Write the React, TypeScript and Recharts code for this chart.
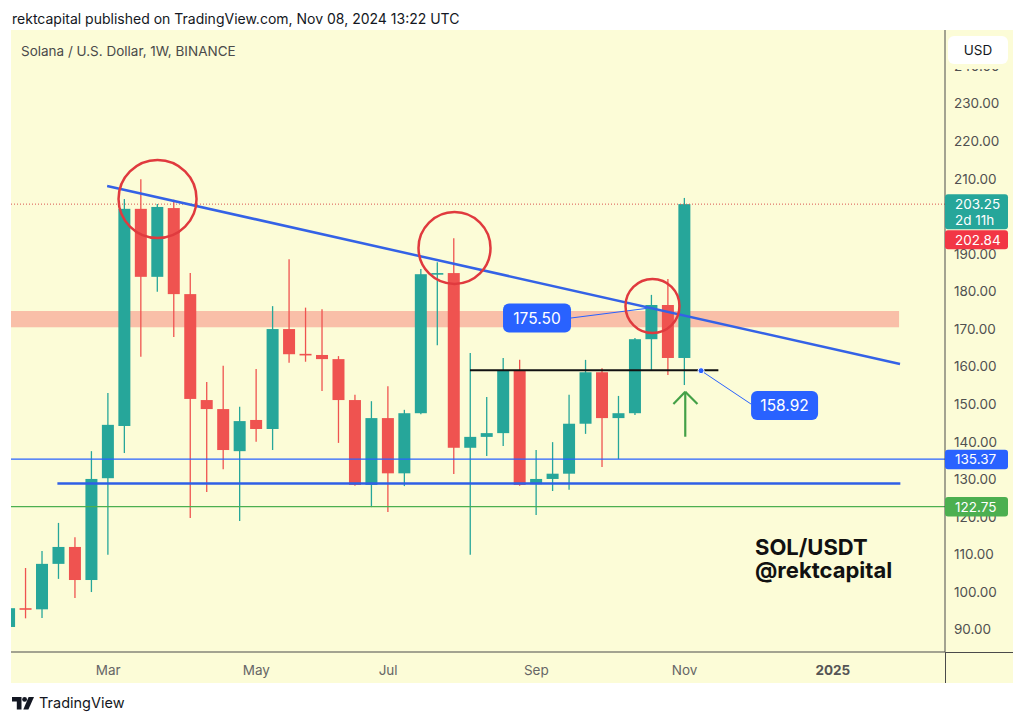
import React from 'react';
import { ComposedChart, Bar, XAxis, YAxis, ReferenceLine, ReferenceArea, ReferenceDot } from 'recharts';

// ---- data (SOL/USD weekly candles) ----
const weeks = [
  '2024-01-22', '2024-01-29', '2024-02-05', '2024-02-12', '2024-02-19', '2024-02-26', '2024-03-04', '2024-03-11',
  '2024-03-18', '2024-03-25', '2024-04-01', '2024-04-08', '2024-04-15', '2024-04-22', '2024-04-29', '2024-05-06',
  '2024-05-13', '2024-05-20', '2024-05-27', '2024-06-03', '2024-06-10', '2024-06-17', '2024-06-24', '2024-07-01',
  '2024-07-08', '2024-07-15', '2024-07-22', '2024-07-29', '2024-08-05', '2024-08-12', '2024-08-19', '2024-08-26',
  '2024-09-02', '2024-09-09', '2024-09-16', '2024-09-23', '2024-09-30', '2024-10-07', '2024-10-14', '2024-10-21',
  '2024-10-28', '2024-11-04',
];
const opens = [
  90.7, 95.7, 95.4, 107.5, 112.0, 103.2, 130.3, 144.2, 202.0, 183.9, 202.2, 179.3, 151.1, 148.7, 137.5, 145.8,
  143.4, 170.0, 163.4, 163.1, 162.0, 151.1, 128.5, 146.3, 131.6, 147.6, 184.6, 184.9, 138.4, 141.3, 142.3, 159.1,
  128.7, 130.1, 131.5, 144.8, 158.5, 146.3, 147.6, 167.3, 176.4, 162.3,
];
const highs = [
  96.2, 106.4, 110.9, 118.4, 114.6, 137.5, 153.0, 204.6, 209.9, 203.3, 204.4, 184.9, 155.9, 160.2, 149.3, 159.4,
  176.1, 188.6, 175.7, 175.3, 162.8, 152.5, 150.8, 154.8, 148.5, 186.0, 187.8, 194.2, 163.6, 151.9, 162.3, 161.8,
  137.8, 139.9, 152.5, 161.8, 159.6, 152.2, 167.6, 179.1, 183.3, 204.9,
];
const lows = [
  90.0, 93.0, 93.1, 103.5, 98.4, 100.0, 109.9, 137.0, 162.6, 179.9, 167.9, 119.7, 126.6, 132.7, 118.9, 140.0,
  137.8, 161.0, 161.3, 153.5, 139.7, 128.3, 122.6, 121.3, 128.2, 147.3, 165.7, 131.4, 109.9, 136.2, 138.9, 128.3,
  120.5, 126.9, 127.2, 142.1, 133.3, 135.4, 147.1, 159.1, 157.8, 155.1,
];
const closes = [
  95.7, 95.4, 107.5, 112.0, 103.2, 130.1, 144.5, 202.0, 183.9, 202.5, 179.3, 151.4, 148.7, 137.8, 145.5, 143.4,
  170.0, 163.3, 163.2, 162.0, 151.1, 128.5, 146.3, 131.6, 147.6, 184.6, 184.9, 138.4, 141.3, 142.3, 159.1, 128.5,
  130.1, 131.5, 144.8, 158.5, 146.3, 147.6, 167.3, 176.4, 162.3, 203.25,
];

const xTickIdx = [6, 15, 23, 32, 41, 50];
const xTickLabels = ['Mar', 'May', 'Jul', 'Sep', 'Nov', '2025'];
const yTicks = [90, 100, 110, 120, 130, 140, 150, 160, 170, 180, 190, 210, 220, 230, 240];

// annotation values (data space)
const lastPrice = 203.25;
const otherPrice = 202.84;
const countdown = '2d 11h';
const support1 = 135.37;
const support2 = 122.75;
const rangeLow = 128.9;
const neckline = 159.05;
const retestPrice = 158.92;
const breakPrice = 175.5;
const zoneLow = 170.5;
const zoneHigh = 174.8;
const trendline = [{ x: 5.94, y: 208.1 }, { x: 54.08, y: 160.7 }];
const rangeLine = [{ x: 2.92, y: rangeLow }, { x: 54.1, y: rangeLow }];
const necklineSeg = [{ x: 27.97, y: neckline }, { x: 43.05, y: neckline }];
const zoneEnd = 54.02;
const circles = [
  { x: 9.0, y: 204.6, r: 39 },
  { x: 27.03, y: 191.57, r: 36 },
  { x: 39.05, y: 176.13, r: 27 },
];
const breakLabel = { x: 32.04, y: 172.94 };
const breakConnector = [{ x: 34.1, y: 172.94 }, { x: 38.7, y: breakPrice }];
const retestLabel = { x: 47.07, y: 149.65 };
const retestDot = { x: 42.0, y: retestPrice };
const retestConnector = [{ x: 42.0, y: retestPrice }, { x: 45.03, y: 150.05 }];
const arrowShaft = [{ x: 41.04, y: 141.34 }, { x: 41.04, y: 153.32 }];
const arrowLeft = [{ x: 40.32, y: 150.05 }, { x: 41.04, y: 153.32 }];
const arrowRight = [{ x: 41.78, y: 150.05 }, { x: 41.04, y: 153.32 }];

const X_DOMAIN: [number, number] = [0.103, 56.81];
const Y_DOMAIN: [number, number] = [84.04, 249.6];

const UP = '#26A69A';
const DOWN = '#EF5350';
const BLUE = '#2962FF';
const PANEL = '#FCFCD7';
const FONT = "Inter, 'Noto Sans', Roboto, sans-serif";

const rows = opens.map((o, i) => ({
  i,
  week: weeks[i],
  open: o,
  high: highs[i],
  low: lows[i],
  close: closes[i],
  range: [lows[i], highs[i]],
}));

const Candle = (props: any) => {
  const { x, y, width, height, payload } = props;
  if (!payload) return null;
  const { open, close, high, low } = payload;
  const span = high - low;
  const ppu = span > 0 ? height / span : 0;
  const yOf = (v: number) => y + (high - v) * ppu;
  const up = close >= open;
  const color = up ? UP : DOWN;
  const cx = x + width / 2;
  const top = yOf(Math.max(open, close));
  const bot = yOf(Math.min(open, close));
  return (
    <g>
      <line x1={cx} x2={cx} y1={y} y2={y + height} stroke={color} strokeWidth={1.3} />
      <rect x={x} y={top} width={width} height={Math.max(bot - top, 1.6)} fill={color} />
    </g>
  );
};

const XTick = (props: any) => {
  const { x, y, payload } = props;
  const idx = xTickIdx.indexOf(payload.value);
  const label = xTickLabels[idx] ?? '';
  const bold = label === '2025';
  return (
    <text x={x} y={y + 21} textAnchor="middle" fontFamily={FONT} fontSize={13.5}
      fontWeight={bold ? 700 : 400} fill={bold ? '#555' : '#666'}>
      {label}
    </text>
  );
};

const TagLast = (props: any) => {
  const vb = props.viewBox || {};
  const right = vb.x + vb.width;
  const y = vb.y;
  return (
    <g>
      <rect x={right} y={y - 10} width={63} height={35} rx={3} fill={UP} />
      <text x={right + 10} y={y + 5} fontFamily={FONT} fontSize={13.5} fill="#fff">{lastPrice.toFixed(2)}</text>
      <text x={right + 10} y={y + 21} fontFamily={FONT} fontSize={13.5} fill="#fff">{countdown}</text>
      <rect x={right} y={y + 26} width={63} height={19} rx={3} fill="#F23645" />
      <text x={right + 10} y={y + 40.5} fontFamily={FONT} fontSize={13.5} fill="#fff">{otherPrice.toFixed(2)}</text>
    </g>
  );
};

const makeTag = (value: number, color: string) => (props: any) => {
  const vb = props.viewBox || {};
  const right = vb.x + vb.width;
  const y = vb.y;
  return (
    <g>
      <rect x={right} y={y - 9.5} width={63} height={19.5} rx={3} fill={color} />
      <text x={right + 10} y={y + 5} fontFamily={FONT} fontSize={13.5} fill="#fff">{value.toFixed(2)}</text>
    </g>
  );
};

const makeBox = (text: string, w: number) => (props: any) => {
  const { cx, cy } = props;
  return (
    <g>
      <rect x={cx - w / 2} y={cy - 14.5} width={w} height={29} rx={6} fill={BLUE} />
      <text x={cx} y={cy + 5.5} textAnchor="middle" fontFamily={FONT} fontSize={15.5} fill="#fff">{text}</text>
    </g>
  );
};

export default function App() {
  return (
    <div style={{ position: 'absolute', left: 0, top: 0, width: 1024, height: 723, background: '#fff', overflow: 'hidden', fontFamily: FONT }}>
      <div style={{ position: 'absolute', left: 12, top: 10, fontSize: 14, lineHeight: '18px', color: '#131722', whiteSpace: 'nowrap' }}>
        rektcapital published on TradingView.com, Nov 08, 2024 13:22 UTC
      </div>
      <div style={{ position: 'absolute', left: 11, top: 30, width: 1002, height: 653, background: PANEL }} />
      {/* main chart */}
      <div style={{ position: 'absolute', left: 0, top: 0 }}>
        <ComposedChart width={1024} height={723} data={rows} margin={{ top: 30, left: 11, right: 11, bottom: 40 }}>
          <XAxis dataKey="i" type="number" domain={X_DOMAIN} allowDataOverflow ticks={xTickIdx} interval={0}
            tick={<XTick />} tickLine={false} tickSize={0} height={31} axisLine={{ stroke: '#4a4a4a' }} />
          <YAxis orientation="right" type="number" domain={Y_DOMAIN} allowDataOverflow ticks={yTicks} interval={0}
            width={68} tickLine={false} tickSize={0} tickMargin={9} axisLine={{ stroke: '#4a4a4a' }}
            tick={{ fill: '#505050', fontSize: 13.5, fontFamily: FONT }} tickFormatter={(v: number) => v.toFixed(2)} />
          <ReferenceArea y1={zoneLow} y2={zoneHigh} x2={zoneEnd} fill="#F8B4A0" fillOpacity={0.85} stroke="none" ifOverflow="visible" />
          <Bar dataKey="range" barSize={12} shape={<Candle />} isAnimationActive={false} />
          <ReferenceLine y={lastPrice} stroke="#D9534F" strokeDasharray="1 2" strokeWidth={1} />
          <ReferenceLine y={support1} stroke={BLUE} strokeWidth={1.2} />
          <ReferenceLine y={support2} stroke="#4CAF50" strokeWidth={1.2} />
          <ReferenceLine segment={rangeLine} stroke="#2F5FE6" strokeWidth={2.5} />
          <ReferenceLine segment={trendline} stroke="#3462E6" strokeWidth={2.5} />
          <ReferenceLine segment={necklineSeg} stroke="#111" strokeWidth={2} />
          <ReferenceLine segment={breakConnector} stroke={BLUE} strokeWidth={1} />
          <ReferenceLine segment={retestConnector} stroke={BLUE} strokeWidth={1} />
          <ReferenceLine segment={arrowShaft} stroke="#43A047" strokeWidth={2.2} />
          <ReferenceLine segment={arrowLeft} stroke="#43A047" strokeWidth={2.2} />
          <ReferenceLine segment={arrowRight} stroke="#43A047" strokeWidth={2.2} />
          {circles.map((c, k) => (
            <ReferenceDot key={k} x={c.x} y={c.y} r={c.r} fill="none" stroke="#E03A3E" strokeWidth={2.5} />
          ))}
          <ReferenceDot x={retestDot.x} y={retestDot.y} r={3} fill={BLUE} stroke="#fff" strokeWidth={1} />
          <ReferenceDot x={breakLabel.x} y={breakLabel.y} shape={makeBox(breakPrice.toFixed(2), 68)} />
          <ReferenceDot x={retestLabel.x} y={retestLabel.y} shape={makeBox(retestPrice.toFixed(2), 67)} />
        </ComposedChart>
      </div>
      <div style={{ position: 'absolute', left: 945, top: 652, width: 68, height: 1, background: '#4a4a4a' }} />
      <div style={{ position: 'absolute', left: 944.5, top: 652, width: 1, height: 31, background: '#4a4a4a' }} />
      {/* price scale tags, drawn above the axis labels */}
      <div style={{ position: 'absolute', left: 0, top: 0, pointerEvents: 'none' }}>
        <ComposedChart width={1024} height={723} data={rows} margin={{ top: 30, left: 11, right: 79, bottom: 71 }}>
          <XAxis dataKey="i" type="number" domain={X_DOMAIN} allowDataOverflow hide />
          <YAxis type="number" domain={Y_DOMAIN} allowDataOverflow hide />
          <ReferenceLine y={lastPrice} stroke="none" label={<TagLast />} />
          <ReferenceLine y={support1} stroke="none" label={makeTag(support1, BLUE)} />
          <ReferenceLine y={support2} stroke="none" label={makeTag(support2, '#4CAF50')} />
        </ComposedChart>
      </div>
      <div style={{ position: 'absolute', left: 21, top: 42, fontSize: 13.5, lineHeight: '18px', color: '#4a4a4a', whiteSpace: 'nowrap' }}>
        Solana / U.S. Dollar, 1W, BINANCE
      </div>
      <div style={{ position: 'absolute', left: 946, top: 31, width: 66, height: 38, background: PANEL }} />
      <div style={{ position: 'absolute', left: 948, top: 36, width: 60, height: 28, background: '#fff', borderRadius: 6,
        fontSize: 13.5, lineHeight: '28px', textAlign: 'center', color: '#131722' }}>
        USD
      </div>
      <div style={{ position: 'absolute', left: 755, top: 536, height: 22, fontSize: 22, lineHeight: '22px', fontWeight: 700, color: '#111', whiteSpace: 'nowrap' }}>
        SOL/USDT
      </div>
      <div style={{ position: 'absolute', left: 755, top: 559, height: 22, fontSize: 22, lineHeight: '22px', fontWeight: 700, color: '#111', whiteSpace: 'nowrap' }}>
        @rektcapital
      </div>
      <div style={{ position: 'absolute', left: 12, top: 695, display: 'flex', alignItems: 'center', gap: 5 }}>
        <svg width={22} height={13} viewBox="0 0 22 13">
          <path d="M0 0h9.5v12.5h-4.7V4.6H0z" fill="#131722" />
          <circle cx={12.6} cy={2.4} r={2.4} fill="#131722" />
          <path d="M16.6 0h5.4l-5.6 12.5h-5.1z" fill="#131722" />
        </svg>
        <span style={{ fontSize: 14.5, lineHeight: '16px', color: '#131722' }}>TradingView</span>
      </div>
    </div>
  );
}
